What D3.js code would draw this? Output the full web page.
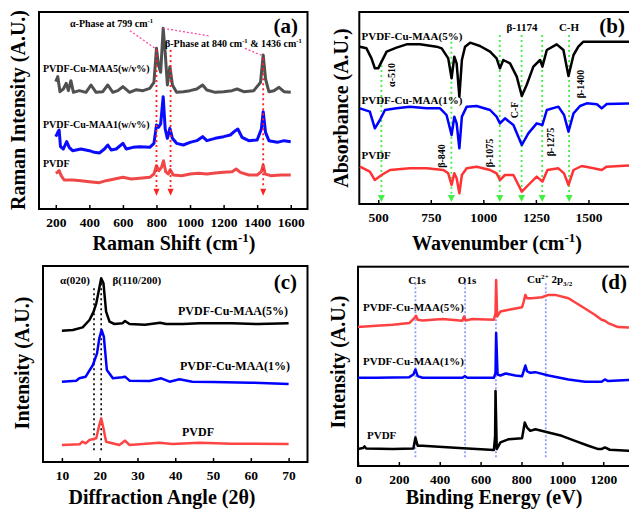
<!DOCTYPE html>
<html>
<head>
<meta charset="utf-8">
<script src="https://cdn.jsdelivr.net/npm/d3@7"></script>
<style>
  body { margin: 0; background: #fff; }
  svg { display: block; }
  text { font-family: "Liberation Serif", "Times New Roman", serif; font-weight: bold; fill: #000; }
</style>
</head>
<body>
<script>
// ---------- (a) Raman spectra : [Raman shift cm-1, intensity a.u.] ----------
const ramanTicks = [200, 400, 600, 800, 1000, 1200, 1400, 1600];
const ramanMaa5 = [
  [200, 382], [212, 397], [225, 352], [245, 360], [262, 377], [275, 355], [290, 385], [305, 350],
  [340, 355], [380, 350], [410, 372], [440, 350], [480, 352], [510, 372], [540, 350], [570, 355],
  [600, 367], [640, 350], [680, 358], [720, 355], [760, 362], [785, 380], [800, 482], [812, 432],
  [825, 410], [840, 542], [852, 470], [865, 372], [880, 427], [895, 372], [920, 350], [960, 352],
  [1000, 355], [1040, 360], [1075, 372], [1100, 357], [1150, 350], [1200, 352], [1250, 355],
  [1280, 360], [1320, 352], [1380, 355], [1420, 380], [1436, 462], [1450, 390], [1470, 352],
  [1500, 355], [1530, 365], [1560, 352], [1600, 350]
];
const ramanMaa1 = [
  [200, 217], [212, 230], [220, 237], [228, 187], [245, 180], [265, 202], [280, 185], [300, 175],
  [350, 180], [400, 175], [430, 170], [460, 168], [490, 180], [510, 192], [530, 177], [560, 180],
  [600, 197], [620, 180], [660, 185], [700, 187], [760, 185], [785, 197], [800, 252], [812, 245],
  [825, 255], [840, 337], [852, 240], [865, 212], [880, 242], [895, 212], [920, 197], [960, 192],
  [1000, 200], [1040, 205], [1075, 217], [1100, 205], [1150, 212], [1200, 217], [1240, 222],
  [1270, 235], [1285, 240], [1310, 215], [1350, 205], [1400, 207], [1425, 240], [1436, 292],
  [1450, 230], [1470, 205], [1520, 200], [1560, 205], [1600, 202]
];
const ramanPvdf = [
  [200, 107], [210, 110], [220, 115], [232, 100], [250, 87], [300, 87], [350, 85], [400, 82],
  [460, 79], [500, 85], [550, 90], [600, 95], [650, 90], [700, 92], [760, 95], [785, 105],
  [800, 130], [815, 115], [830, 125], [842, 145], [855, 112], [870, 105], [882, 118], [900, 102],
  [950, 100], [1000, 105], [1050, 107], [1100, 105], [1150, 108], [1200, 110], [1250, 112],
  [1275, 120], [1300, 110], [1350, 102], [1400, 102], [1425, 112], [1436, 132], [1448, 105],
  [1480, 100], [1540, 102], [1600, 102]
];
const ramanMarks = [800, 884, 1436];

// ---------- (b) FTIR spectra : [wavenumber cm-1, absorbance a.u.] ----------
const ftirTicks = [500, 750, 1000, 1250, 1500];
const ftirMaa5 = [
  [413, 472], [444, 467], [468, 437], [484, 407], [500, 407], [516, 427], [540, 457], [587, 469],
  [635, 479], [698, 479], [778, 472], [802, 467], [833, 437], [849, 377], [862, 442], [873, 422],
  [886, 322], [898, 432], [913, 472], [937, 484], [984, 474], [1032, 457], [1063, 437], [1079, 407],
  [1095, 432], [1127, 422], [1159, 382], [1183, 324], [1206, 357], [1238, 412], [1270, 432],
  [1281, 412], [1302, 462], [1349, 479], [1381, 462], [1405, 384], [1429, 447], [1452, 472],
  [1476, 487], [1750, 487]
];
const ftirMaa1 = [
  [413, 287], [460, 277], [484, 227], [508, 252], [532, 282], [587, 287], [651, 292], [730, 287],
  [794, 287], [825, 267], [849, 207], [862, 262], [873, 242], [886, 167], [898, 262], [921, 292],
  [968, 294], [1032, 282], [1063, 262], [1079, 242], [1103, 257], [1143, 237], [1183, 177],
  [1214, 212], [1254, 242], [1281, 237], [1302, 282], [1357, 292], [1384, 267], [1405, 217],
  [1429, 272], [1460, 294], [1492, 302], [1540, 299], [1563, 287], [1587, 300], [1750, 302]
];
const ftirPvdf = [
  [413, 112], [460, 97], [484, 72], [516, 87], [556, 102], [651, 107], [730, 107], [810, 102],
  [833, 92], [849, 57], [862, 92], [873, 77], [886, 32], [898, 87], [921, 107], [968, 112],
  [1032, 102], [1063, 92], [1079, 72], [1103, 87], [1143, 87], [1183, 37], [1214, 57], [1254, 82],
  [1281, 67], [1305, 102], [1357, 107], [1384, 92], [1405, 57], [1429, 102], [1468, 114],
  [1524, 107], [1563, 102], [1587, 112], [1750, 117]
];
// band markers : [position, top of dotted line]
const ftirMarks = [[515, 432], [848, 487], [1078, 507], [1182, 507], [1280, 507], [1408, 507]];

// ---------- (c) XRD patterns : [2θ, intensity a.u.] ----------
const xrdTicks = [10, 20, 30, 40, 50, 60, 70];
const xrdMaa5 = [
  [10, 394], [12.9, 396], [15.5, 404], [17.3, 426], [18.4, 451], [19.1, 476], [19.8, 516],
  [20.4, 551], [21.0, 536], [21.7, 451], [22.6, 421], [23.9, 414], [26.0, 416], [26.7, 423],
  [27.9, 414], [32, 412], [36, 418], [37.6, 414], [42, 414], [46.4, 416], [55, 416], [62, 414], [70, 416]
];
const xrdMaa1 = [
  [10, 241], [13.8, 244], [14.6, 251], [16.3, 256], [18.2, 291], [19.3, 326], [19.9, 371],
  [20.5, 396], [21.1, 376], [21.9, 276], [23.5, 251], [26.0, 254], [26.7, 256], [27.9, 244],
  [33.2, 243], [36.3, 251], [38.5, 241], [41.1, 248], [44.5, 241], [50, 240], [60, 238], [70, 234]
];
const xrdPvdf = [
  [10, 51], [14.7, 53], [15.4, 61], [16.3, 56], [17.3, 66], [19.1, 71], [19.9, 111], [20.4, 131],
  [21.0, 101], [21.7, 61], [25.2, 51], [26.7, 64], [27.9, 51], [35.8, 58], [39.3, 54], [46.4, 58],
  [55, 55], [70, 54]
];
const xrdMarks = [[18.5, 521], [20.4, 551]];

// ---------- (d) XPS survey : [binding energy eV, intensity a.u.] ----------
const xpsTicks = [0, 200, 400, 600, 800, 1000, 1200];
const xpsMaa5 = [
  [0, 419], [89, 423], [170, 426], [251, 431], [276, 446], [284, 453], [292, 441], [316, 439],
  [414, 443], [511, 438], [519, 451], [527, 439], [559, 443], [665, 441], [673, 461], [676, 561],
  [681, 451], [697, 466], [738, 471], [803, 479], [811, 496], [819, 516], [827, 506], [851, 506],
  [900, 509], [932, 516], [965, 516], [1030, 506], [1095, 481], [1159, 456], [1192, 441],
  [1208, 438], [1224, 431], [1273, 419], [1322, 418], [1380, 418]
];
const xpsMaa1 = [
  [0, 266], [89, 266], [251, 268], [271, 276], [281, 291], [292, 271], [316, 266], [511, 266],
  [522, 271], [535, 266], [665, 266], [673, 281], [676, 401], [683, 276], [697, 273], [722, 279],
  [770, 273], [803, 271], [819, 303], [827, 286], [843, 281], [868, 283], [932, 273], [1030, 261],
  [1111, 254], [1192, 254], [1208, 261], [1224, 256], [1322, 259], [1380, 259]
];
const xpsPvdf = [
  [0, 51], [24, 54], [32, 59], [40, 53], [170, 51], [271, 53], [281, 86], [292, 61], [316, 61],
  [495, 54], [665, 48], [671, 91], [673, 226], [679, 51], [697, 71], [738, 81], [803, 84],
  [816, 131], [827, 116], [843, 106], [868, 111], [932, 101], [997, 91], [1062, 76], [1127, 61],
  [1176, 51], [1192, 51], [1208, 56], [1232, 49], [1322, 46], [1380, 46]
];
const xpsMarks = [281, 524, 675, 919];

// ---------- drawing ----------
const svg = d3.select("body").append("svg")
  .attr("width", 629)
  .attr("height", 510);

// frame, bottom ticks and scales of one panel
function panel(p) {
  const x = d3.scaleLinear().domain(p.xDomain).range([p.left, p.right]);
  const y = d3.scaleLinear().domain(p.yDomain).range([p.bottom, p.top]);
  const ax = svg.append("g")
    .attr("transform", `translate(0,${p.bottom})`)
    .call(d3.axisBottom(x).tickValues(p.ticks).tickSize(-4).tickSizeOuter(0).tickPadding(8).tickFormat(d3.format("d")));
  ax.attr("font-size", 13.5);
  ax.select(".domain").remove();
  ax.selectAll("line").attr("stroke", "#000").attr("stroke-width", 1.5);
  svg.append("rect")
    .attr("x", p.left).attr("y", p.top)
    .attr("width", p.right - p.left).attr("height", p.bottom - p.top)
    .attr("fill", "none").attr("stroke", "#000").attr("stroke-width", 2);
  return { x, y };
}

function spectrum(s, data, color, width) {
  const line = d3.line().x(d => s.x(d[0])).y(d => s.y(d[1]));
  svg.append("path")
    .datum(data)
    .attr("fill", "none")
    .attr("stroke", color)
    .attr("stroke-width", width)
    .attr("stroke-linejoin", "round")
    .attr("d", line);
}

// text with optional super/subscript parts: [[text, "sup"|"sub"|null], ...]
function label(x, y, size, parts, opts = {}) {
  const t = svg.append("text")
    .attr("font-size", size)
    .attr("text-anchor", opts.anchor || "start");
  if (opts.rotate) t.attr("transform", `translate(${x},${y}) rotate(-90)`);
  else t.attr("x", x).attr("y", y);
  let shift = 0;
  parts.forEach(([str, kind]) => {
    const target = kind === "sup" ? -0.38 * size : kind === "sub" ? 0.25 * size : 0;
    const ts = t.append("tspan").attr("dy", target - shift).text(str);
    if (kind) ts.attr("font-size", size * 0.65);
    shift = target;
  });
  return t;
}

function dotted(x1, y1, x2, y2, color, width, dash) {
  svg.append("line")
    .attr("x1", x1).attr("y1", y1).attr("x2", x2).attr("y2", y2)
    .attr("stroke", color).attr("stroke-width", width).attr("stroke-dasharray", dash);
}

function arrowDown(x, yTip, color, h, w) {
  svg.append("path")
    .attr("d", `M${x - w},${yTip - h} L${x + w},${yTip - h} L${x},${yTip} Z`)
    .attr("fill", color);
}

// ===== (a) =====
const A = panel({ left: 39, right: 307.5, top: 12, bottom: 209, xDomain: [100, 1700], yDomain: [0, 591], ticks: ramanTicks });
spectrum(A, ramanMaa5, "#505050", 3);
spectrum(A, ramanMaa1, "#0a0aff", 3);
spectrum(A, ramanPvdf, "#f04848", 3);
ramanMarks.forEach((m, i) => {
  const top = i === 2 ? 452 : 477;
  dotted(A.x(m), A.y(top), A.x(m), A.y(62), "#ff2020", 1.8, "2,3");
  arrowDown(A.x(m), A.y(40), "#ff2020", 7, 3);
});
dotted(A.x(642), A.y(535), A.x(800), A.y(479), "#ff3fa0", 1.2, "2,2");
dotted(A.x(840), A.y(542), A.x(1118), A.y(519), "#ff3fa0", 1.2, "2,2");
dotted(A.x(1327), A.y(482), A.x(1436), A.y(459), "#ff3fa0", 1.2, "2,2");
label(70, 26.5, 10, [["α-Phase at 799 cm"], ["-1", "sup"]]);
label(165, 47, 10, [["β-Phase at 840 cm"], ["-1", "sup"], [" & 1436 cm"], ["-1", "sup"]]);
label(43, 72, 10, [["PVDF-Cu-MAA5(w/v%)"]]);
label(43, 128, 10, [["PVDF-Cu-MAA1(w/v%)"]]);
label(43, 166.5, 10, [["PVDF"]]);
label(298, 33, 21, [["(a)"]], { anchor: "end" });
label(174, 250, 20, [["Raman Shift (cm"], ["-1", "sup"], [")"]], { anchor: "middle" });
label(25, 110, 20, [["Raman Intensity (A.U.)"]], { anchor: "middle", rotate: true });

// ===== (b) =====
const B = panel({ left: 359.3, right: 641, top: 12, bottom: 204, xDomain: [410, 1750], yDomain: [0, 576], ticks: ftirTicks });
ftirMarks.forEach(([m, top]) => {
  dotted(B.x(m), B.y(top), B.x(m), B.y(22), "#44ee44", 1.8, "2,3");
  arrowDown(B.x(m), B.y(6), "#44ee44", 7, 3.5);
});
spectrum(B, ftirMaa5, "#000000", 2.5);
spectrum(B, ftirMaa1, "#0000ff", 2.5);
spectrum(B, ftirPvdf, "#ff3333", 2.5);
label(361.5, 39.5, 11, [["PVDF-Cu-MAA(5%)"]]);
label(361.5, 104, 11, [["PVDF-Cu-MAA(1%)"]]);
label(361.5, 159, 11, [["PVDF"]]);
label(522, 31, 11, [["β-1174"]], { anchor: "middle" });
label(569, 31, 11, [["C-H"]], { anchor: "middle" });
label(395, 75, 10, [["α-510"]], { anchor: "middle", rotate: true });
label(583.5, 84, 10, [["β-1400"]], { anchor: "middle", rotate: true });
label(518, 110, 10, [["C-F"]], { anchor: "middle", rotate: true });
label(445, 156, 10, [["β-840"]], { anchor: "middle", rotate: true });
label(492.5, 153, 10, [["β-1075"]], { anchor: "middle", rotate: true });
label(553.5, 142, 10, [["β-1275"]], { anchor: "middle", rotate: true });
label(625, 33, 21, [["(b)"]], { anchor: "end" });
label(497, 250, 20, [["Wavenumber (cm"], ["-1", "sup"], [")"]], { anchor: "middle" });
label(348, 108, 20, [["Absorbance (A.U.)"]], { anchor: "middle", rotate: true });

// ===== (c) =====
const C = panel({ left: 43, right: 307.5, top: 266, bottom: 462, xDomain: [5, 75], yDomain: [0, 588], ticks: xrdTicks });
xrdMarks.forEach(([m, top]) => dotted(C.x(m), C.y(top), C.x(m), C.y(28), "#000", 1.6, "2,3"));
spectrum(C, xrdMaa5, "#000000", 2.5);
spectrum(C, xrdMaa1, "#0000ff", 2.5);
spectrum(C, xrdPvdf, "#ff4444", 2.5);
label(60, 283.5, 11, [["α(020)"]]);
label(112.5, 283.5, 11, [["β(110/200)"]]);
label(178, 314.5, 12, [["PVDF-Cu-MAA(5%)"]]);
label(180, 370, 12, [["PVDF-Cu-MAA(1%)"]]);
label(182, 435.5, 12, [["PVDF"]]);
label(297, 289, 21, [["(c)"]], { anchor: "end" });
label(162, 504, 20, [["Diffraction Angle (2θ)"]], { anchor: "middle" });
label(29, 363, 20, [["Intensity (A.U.)"]], { anchor: "middle", rotate: true });

// ===== (d) =====
const D = panel({ left: 358, right: 640, top: 266.7, bottom: 466, xDomain: [0, 1380], yDomain: [0, 601], ticks: xpsTicks });
xpsMarks.forEach(m => dotted(D.x(m), D.y(551), D.x(m), D.y(26), "#8f9fff", 1.8, "2,2"));
spectrum(D, xpsMaa5, "#ff4040", 2.5);
spectrum(D, xpsMaa1, "#0000ff", 2.5);
spectrum(D, xpsPvdf, "#000000", 2.5);
label(417, 283.5, 11, [["C1s"]], { anchor: "middle" });
label(467, 283.5, 11, [["O1s"]], { anchor: "middle" });
label(527, 283, 11, [["Cu"], ["2+", "sup"], [" 2p"], ["3/2", "sub"]]);
label(363, 310.5, 11, [["PVDF-Cu-MAA(5%)"]]);
label(363, 364.5, 11, [["PVDF-Cu-MAA(1%)"]]);
label(367, 439, 11, [["PVDF"]]);
label(627, 289, 21, [["(d)"]], { anchor: "end" });
label(494, 504, 20, [["Binding Energy (eV)"]], { anchor: "middle" });
label(345, 362, 20, [["Intensity (A.U.)"]], { anchor: "middle", rotate: true });
</script>
</body>
</html>
